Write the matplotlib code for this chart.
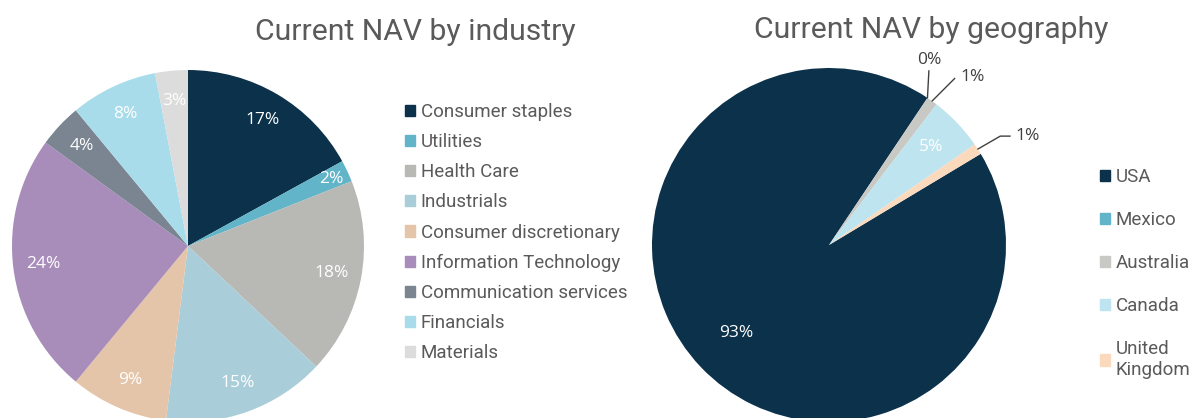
"""
Current NAV split by industry and by geography, two pie charts side by side
"""

import numpy as np
import matplotlib.pyplot as plt
from matplotlib.patches import Patch

industries = ["Consumer staples", "Utilities", "Health Care", "Industrials",
              "Consumer discretionary", "Information Technology",
              "Communication services", "Financials", "Materials"]
industry_share = [17, 2, 18, 15, 9, 24, 4, 8, 3]
industry_colors = ["#0b314b", "#62b4c9", "#b8b8b4", "#a9cdd9", "#e4c5a9",
                   "#a88cb9", "#7a8591", "#a8dcea", "#dcdcdc"]

countries = ["USA", "Mexico", "Australia", "Canada", "United\nKingdom"]
country_share = [93, 0, 1, 5, 1]
country_colors = ["#0b314b", "#62b4c9", "#c8c8c4", "#bde4ef", "#fbd9bd"]

W, H = 1195, 418
fig = plt.figure(figsize=(W / 100, H / 100), dpi=100)

txt_grey = "#5a5a5a"
plt.rcParams['font.family'] = ['Open Sans', 'DejaVu Sans']
pct_size = 12.5


def pie_axes(cx, cy, r):
    # cx, cy, r in pixels, cy measured from the top
    return fig.add_axes([(cx - r) / W, (H - cy - r) / H, 2 * r / W, 2 * r / H])


# ---- left pie: industry
ax1 = pie_axes(188, 246, 176)
wedges1, texts1, auto1 = ax1.pie(industry_share, colors=industry_colors,
                                 startangle=90, counterclock=False,
                                 autopct=lambda p: f"{p:.0f}%",
                                 pctdistance=0.83,
                                 textprops=dict(color="white", fontsize=pct_size))
# the 2% slice label sits closer to the rim
w = wedges1[1]
ang = np.deg2rad((w.theta1 + w.theta2) / 2)
auto1[1].set_position((0.9 * np.cos(ang), 0.9 * np.sin(ang)))
ax1.set_xlim(-1, 1)
ax1.set_ylim(-1, 1)

fig.text(415 / W, 1 - 32 / H, "Current NAV by industry", ha="center",
         va="center", fontsize=21.7, color=txt_grey, family="Roboto")

fig.legend([Patch(color=c) for c in industry_colors], industries,
           loc="upper left", bbox_to_anchor=(388 / W, 1 - 86 / H),
           frameon=False, labelcolor=txt_grey,
           handlelength=0.55, handleheight=0.55, handletextpad=0.3,
           labelspacing=0.65, prop=dict(family="Roboto", size=13.5))

# ---- right pie: geography
ax2 = pie_axes(829, 245, 177)
wedges2, texts2 = ax2.pie(country_share, colors=country_colors,
                          startangle=31, counterclock=False)
ax2.set_xlim(-1, 1)
ax2.set_ylim(-1, 1)


def mid(w, r=1.0):
    a = np.deg2rad((w.theta1 + w.theta2) / 2)
    return r * np.cos(a), r * np.sin(a)


# labels inside the two bigger slices
for i, r in [(0, 0.72), (3, 0.8)]:
    x, y = mid(wedges2[i], r)
    ax2.text(x, y, f"{country_share[i]}%", ha="center", va="center",
             color="white", fontsize=pct_size)

# outside labels with leader lines for tiny slices
line_kw = dict(arrowstyle="-", color="#404040", lw=1, shrinkB=0)
a0 = np.deg2rad(wedges2[1].theta1)
ax2.annotate(f"{country_share[1]}%", xy=(np.cos(a0), np.sin(a0)),
             xytext=(2, 30), textcoords="offset pixels", ha="center", va="bottom",
             color="#404040", fontsize=pct_size,
             arrowprops=dict(shrinkA=0, **line_kw))
ax2.annotate(f"{country_share[2]}%", xy=mid(wedges2[2]),
             xytext=(28, 24), textcoords="offset pixels", ha="left", va="center",
             color="#404040", fontsize=pct_size,
             arrowprops=dict(shrinkA=2,
                             connectionstyle="angle,angleA=0,angleB=45,rad=0",
                             **line_kw))
ax2.annotate(f"{country_share[4]}%", xy=mid(wedges2[4]),
             xytext=(38, 13), textcoords="offset pixels", ha="left", va="center",
             color="#404040", fontsize=pct_size,
             arrowprops=dict(shrinkA=2,
                             connectionstyle="angle,angleA=0,angleB=30,rad=0",
                             **line_kw))

fig.text(931 / W, 1 - 30 / H, "Current NAV by geography", ha="center",
         va="center", fontsize=21.7, color=txt_grey, family="Roboto")

fig.legend([Patch(color=c) for c in country_colors], countries,
           loc="upper left", bbox_to_anchor=(1083 / W, 1 - 151 / H),
           frameon=False, labelcolor=txt_grey,
           handlelength=0.55, handleheight=0.55, handletextpad=0.3,
           labelspacing=1.34, prop=dict(family="Roboto", size=13.5))

plt.savefig("out.png", dpi=100)
